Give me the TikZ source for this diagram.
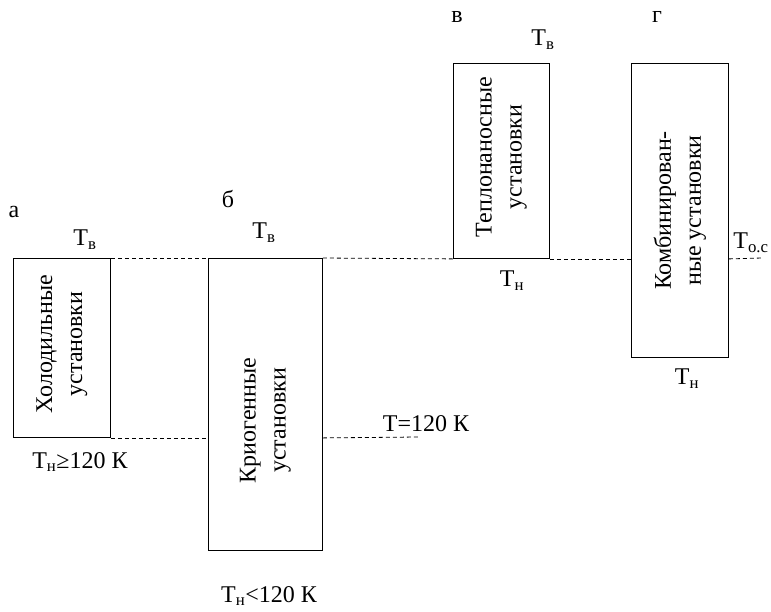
\documentclass[tikz,border=0pt]{standalone}
\usepackage{fontspec}
\setmainfont{Liberation Serif}
\newcommand{\Tsub}[1]{T\textsubscript{#1}}
\begin{document}
\begin{tikzpicture}[
    x=1pt,
    y=-1pt,
    font=\fontsize{24}{30}\selectfont,
    korobka/.style={draw, line width=0.9pt, inner sep=0pt},
    nadpis/.style={rotate=90, align=center},
    metka/.style={inner sep=0pt},
    uroven/.style={dash pattern=on 4pt off 3pt, line width=0.8pt}
]
\useasboundingbox (0,0) rectangle (771,611);

% имя / левый верхний угол x, y / ширина / высота / сдвиг надписи / надпись
\foreach \nm/\lx/\ty/\w/\h/\dy/\txt in {
    kholod/13/258/97/179/-4/{Холодильные\\установки},
    krio/208/258/114/292/16/{Криогенные\\установки},
    teplo/453/63/96/195/-4/{Теплонаносные\\установки},
    komb/631/63/97/294/0/{Комбинирован-\\ные установки}}
{
    \node[korobka, anchor=north west, minimum width=\w pt, minimum height=\h pt] (\nm) at (\lx,\ty) {};
    \node[nadpis] (\nm-txt) at ([yshift=-\dy pt]\nm.center) {\txt};
}

% буквы
\node[metka] (la) at (14,212) {а};
\node[metka] (lb) at (228,199) {б};
\node[metka] (lv) at (457,17) {в};
\node[metka] (lg) at (657,17) {г};

% температуры
\node[metka] (tv1) at (85,240) {\Tsub{в}};
\node[metka] (tv2) at (264,233) {\Tsub{в}};
\node[metka] (tv3) at (543,40) {\Tsub{в}};
\node[metka] (tn3) at (512,281) {\Tsub{н}};
\node[metka] (tn4) at (687,379) {\Tsub{н}};
\node[metka] (toc) at (751,243) {\Tsub{о.с}};
\node[metka] (tn1) at (80,462) {\Tsub{н}≥120 К};
\node[metka] (tn2) at (269,596) {\Tsub{н}<120 К};
\node[metka] (t120) at (426,424) {T=120 К};

% уровни
\coordinate (konec) at (762,258);
\coordinate (konec2) at (418,437);
\draw[uroven] (kholod.north east) -- (krio.north west);
\draw[uroven] (krio.north east) -- (teplo.south west);
\draw[uroven] (teplo.south east) -- (teplo.south east -| komb.west);
\draw[uroven] (teplo.south east -| komb.east) -- (konec);
\draw[uroven] (kholod.south east) -- (kholod.south east -| krio.west);
\draw[uroven] (kholod.south east -| krio.east) -- (konec2);

\end{tikzpicture}
\end{document}
